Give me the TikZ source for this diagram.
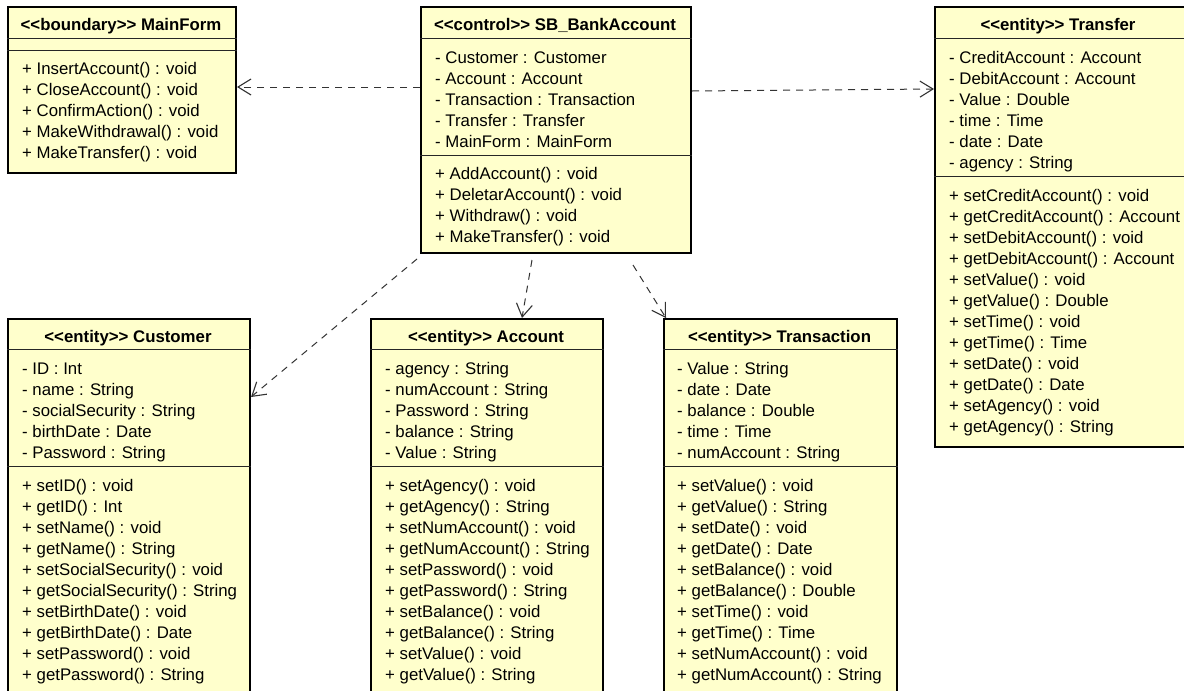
\documentclass[tikz,border=0pt]{standalone}
\usepackage{fontspec}
\setmainfont{Liberation Sans}
\usetikzlibrary{arrows.meta,calc}
\definecolor{classfill}{RGB}{255,255,204}
% stereotype brackets, kept apart so they are not turned into guillemets
\newcommand\stereo[1]{<\kern0pt<#1>\kern0pt>}
% one compartment of a class: name prefix, left x, first baseline, entries
\newcommand\members[4]{%
  \foreach \mtext [count=\i from 0] in {#4} {\node[member] (#1\i) at (#2,#3+21*\i) {\mtext};}}
\begin{document}
\begin{tikzpicture}[x=1pt,y=-1pt,
  classbox/.style={draw=black,line width=2pt,fill=classfill,inner sep=0pt,anchor=north west},
  divider/.style={draw=black!85,line width=1pt},
  member/.style={anchor=base west,inner sep=0pt,font=\fontsize{16.8}{21}\selectfont},
  classtitle/.style={anchor=base,inner sep=0pt,font=\bfseries\fontsize{16.8}{21}\selectfont},
  dep/.style={draw=black!80,line width=1pt,dash pattern=on 7pt off 6pt,
    -{Straight Barb[length=13pt,width=16pt,line width=1.1pt]}}]
\useasboundingbox (0,0) rectangle (1184,691);
\clip (0,0) rectangle (1184,691);
\fill[white] (0,0) rectangle (1184,691);

% ---------- class boxes ----------
\node[classbox,minimum width=228pt,minimum height=166pt] (mainform) at (7,6) {};
\node[classbox,minimum width=270pt,minimum height=246pt] (sb) at (420,6) {};
\node[classbox,minimum width=252pt,minimum height=440pt] (transfer) at (934,6) {};
\node[classbox,minimum width=242pt,minimum height=402pt] (customer) at (7,318) {};
\node[classbox,minimum width=232pt,minimum height=402pt] (account) at (370,318) {};
\node[classbox,minimum width=233pt,minimum height=402pt] (transaction) at (663,318) {};

% ---------- compartment dividers ----------
\draw[divider] (mainform.west |- 0,38) -- (mainform.east |- 0,38);
\draw[divider] (mainform.west |- 0,50) -- (mainform.east |- 0,50);
\draw[divider] (sb.west |- 0,38) -- (sb.east |- 0,38);
\draw[divider] (sb.west |- 0,155) -- (sb.east |- 0,155);
\draw[divider] (transfer.west |- 0,38) -- (transfer.east |- 0,38);
\draw[divider] (transfer.west |- 0,176) -- (transfer.east |- 0,176);
\foreach \cls in {customer,account,transaction}{
  \draw[divider] (\cls.west |- 0,349) -- (\cls.east |- 0,349);
  \draw[divider] (\cls.west |- 0,466) -- (\cls.east |- 0,466);
}

% ---------- titles ----------
\node[classtitle] (mainform-t) at (121,30) {\stereo{boundary} MainForm};
\node[classtitle] (sb-t) at (555,30) {\stereo{control} SB\_BankAccount};
\node[classtitle] (transfer-t) at (1058,30) {\stereo{entity} Transfer};
\node[classtitle] (customer-t) at (128,342) {\stereo{entity} Customer};
\node[classtitle] (account-t) at (486,342) {\stereo{entity} Account};
\node[classtitle] (transaction-t) at (779.5,342) {\stereo{entity} Transaction};

% ---------- members ----------
\members{mfm}{22}{74}{+ InsertAccount() : void, + CloseAccount() : void, + ConfirmAction() : void,
  + MakeWithdrawal() : void, + MakeTransfer() : void}

\members{sba}{435}{63}{- Customer : Customer, - Account : Account, - Transaction : Transaction,
  - Transfer : Transfer, - MainForm : MainForm}
\members{sbm}{435}{179}{+ AddAccount() : void, + DeletarAccount() : void, + Withdraw() : void,
  + MakeTransfer() : void}

\members{tra}{949}{63}{- CreditAccount : Account, - DebitAccount : Account, - Value : Double,
  - time : Time, - date : Date, - agency : String}
\members{trm}{949}{201}{+ setCreditAccount() : void, + getCreditAccount() : Account,
  + setDebitAccount() : void, + getDebitAccount() : Account, + setValue() : void,
  + getValue() : Double, + setTime() : void, + getTime() : Time, + setDate() : void,
  + getDate() : Date, + setAgency() : void, + getAgency() : String}

\members{cua}{22}{374}{- ID : Int, - name : String, - socialSecurity : String,
  - birthDate : Date, - Password : String}
\members{cum}{22}{491}{+ setID() : void, + getID() : Int, + setName() : void,
  + getName() : String, + setSocialSecurity() : void, + getSocialSecurity() : String,
  + setBirthDate() : void, + getBirthDate() : Date, + setPassword() : void,
  + getPassword() : String}

\members{aca}{385}{374}{- agency : String, - numAccount : String, - Password : String,
  - balance : String, - Value : String}
\members{acm}{385}{491}{+ setAgency() : void, + getAgency() : String, + setNumAccount() : void,
  + getNumAccount() : String, + setPassword() : void, + getPassword() : String,
  + setBalance() : void, + getBalance() : String, + setValue() : void,
  + getValue() : String}

\members{tna}{677}{374}{- Value : String, - date : Date, - balance : Double,
  - time : Time, - numAccount : String}
\members{tnm}{677}{491}{+ setValue() : void, + getValue() : String, + setDate() : void,
  + getDate() : Date, + setBalance() : void, + getBalance() : Double,
  + setTime() : void, + getTime() : Time, + setNumAccount() : void,
  + getNumAccount() : String}

% ---------- dependencies ----------
\draw[dep] (sb.west |- 0,87) -- (mainform.east |- 0,87);
\draw[dep] (sb.east |- 0,91) -- (transfer.west |- 0,89);
\draw[dep] ($(sb.south west)+(-3,5)$) -- (customer.east |- 0,397);
\draw[dep] ($(sb.south west)+(112,6)$) -- ($(account.north west)+(152,0)$);
\draw[dep] ($(sb.south west)+(213,11)$) -- ($(transaction.north west)+(3,0)$);
\end{tikzpicture}
\end{document}
